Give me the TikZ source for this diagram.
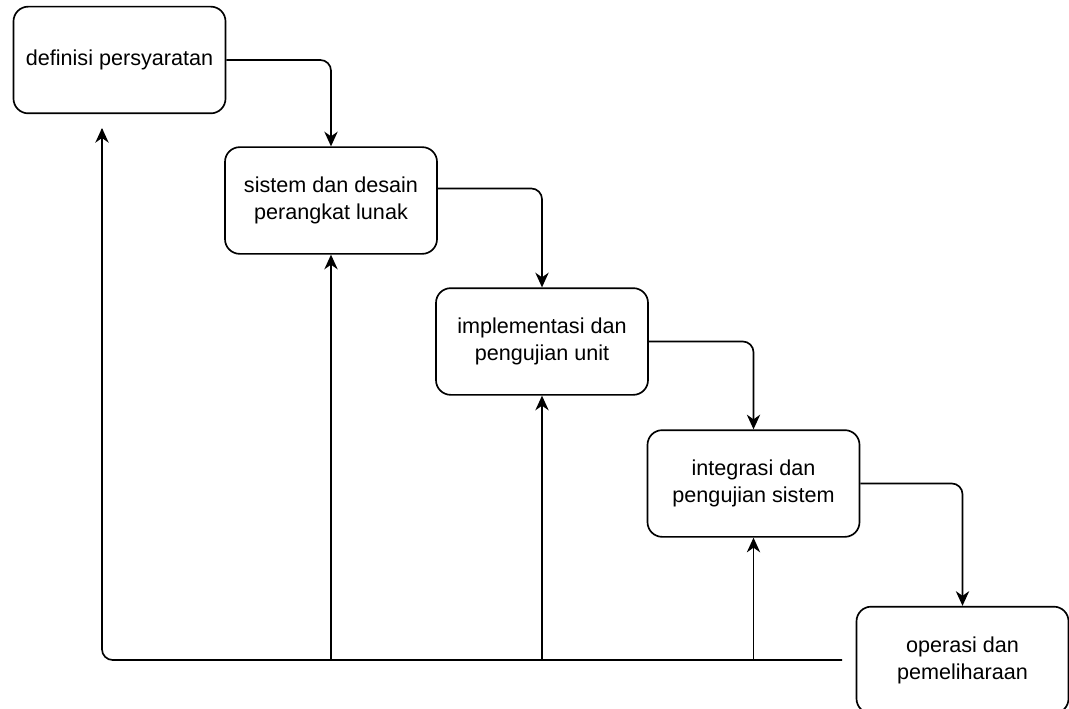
\documentclass[tikz,border=0pt]{standalone}
\usepackage{fontspec}
\setmainfont{Liberation Sans}
\usetikzlibrary{arrows.meta}

\tikzset{
	tahap/.style={draw, line width=1.25pt, rounded corners=11pt, align=center,
		minimum width=159pt, minimum height=80pt, inner sep=0pt,
		font=\fontsize{16.2}{20.3}\selectfont},
	alur/.style={line width=1.25pt, rounded corners=8pt,
		-{Stealth[length=11pt,width=10pt,inset=3.5pt]}},
	balik/.style={line width=1.25pt, rounded corners=8pt}
}

\begin{document}
\begin{tikzpicture}[x=0.75pt,y=-0.75pt]
				\clip (0,0) rectangle (1069,709);
				\foreach \n/\x/\y/\t in
				{A/119.5/60/{definisi persyaratan},
				 B/331/200.5/{sistem dan desain\\perangkat lunak},
				 C/542/341.5/{implementasi dan\\pengujian unit},
				 D/753.5/483.5/{integrasi dan\\pengujian sistem},
				 E/962.5/660/{operasi dan\\pemeliharaan}}{
					\node[tahap] (\n) at (\x,\y) {\t};
				}
				
				% turun ke tahap berikutnya
				\draw[alur] (A.east) -| (B.north);
				\draw[alur] ([yshift=9pt]B.east) -| (C.north);
				\draw[alur] (C.east) -| (D.north);
				\draw[alur] (D.east) -| (E.north);
				
				% garis umpan balik
				\coordinate (fbR) at (842,660);
				\coordinate (fbL) at (102,660);
				\coordinate (fbT) at (102,128);
				\draw[balik] (fbR) -- (fbL) -- ([yshift=-1pt]fbT);
				\draw[alur, rounded corners=0pt] ([yshift=-20pt]fbT) -- (fbT);
				\foreach \n in {B,C,D}{
					\draw[alur, rounded corners=0pt] (\n.south |- fbR) -- (\n.south);
				}
\end{tikzpicture}
\end{document}
